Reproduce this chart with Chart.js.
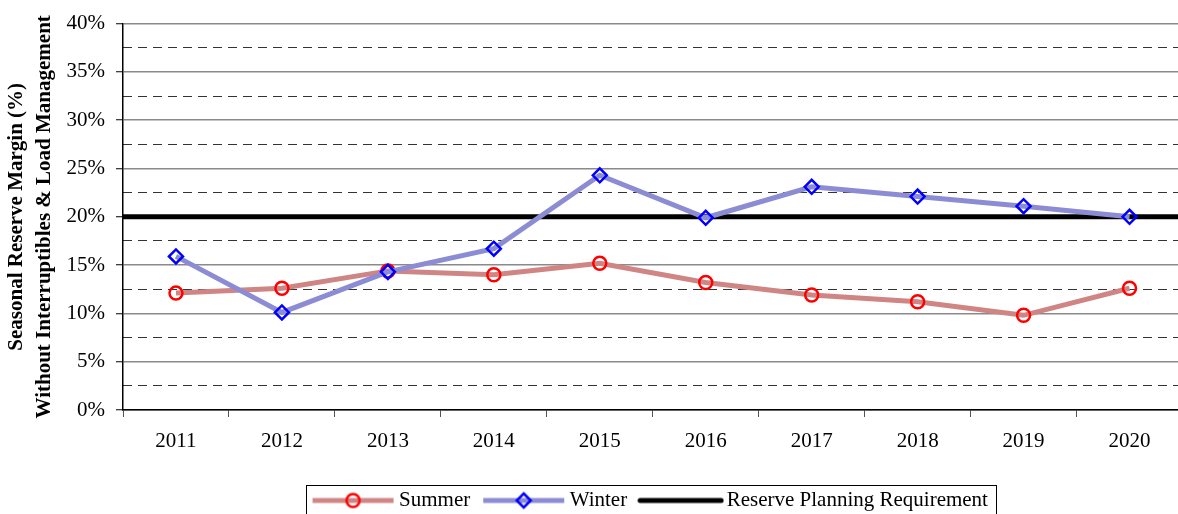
<!DOCTYPE html>
<html>
<head>
<meta charset="utf-8">
<script src="https://cdn.jsdelivr.net/npm/chart.js@4.4.1/dist/chart.umd.min.js"></script>
<style>
  html, body { margin: 0; padding: 0; background: #fff; overflow: hidden; }
  #wrap { width: 1178px; height: 514px; overflow: hidden; position: relative; }
  canvas { display: block; }
</style>
</head>
<body>
<div id="wrap"><canvas id="margin" width="1192" height="521"></canvas></div>
<script>
var years = ["2011", "2012", "2013", "2014", "2015", "2016", "2017", "2018", "2019", "2020"];
var summer = [12.1, 12.6, 14.4, 14.0, 15.2, 13.2, 11.9, 11.2, 9.8, 12.6];
var winter = [15.9, 10.1, 14.3, 16.7, 24.3, 19.9, 23.1, 22.1, 21.1, 20.0];
var requirement = 20;
var seriesNames = ["Summer", "Winter", "Reserve Planning Requirement"];
var yTicks = [0, 5, 10, 15, 20, 25, 30, 35, 40];

var serif = "'Liberation Serif', 'Times New Roman', serif";
Chart.defaults.font.family = serif;
Chart.defaults.font.size = 21;
Chart.defaults.color = "#000";

var summerLine = "#d08585", summerMark = "#ff0000";
var winterLine = "#8c8cd4", winterMark = "#0000ff";

// little line+marker glyphs for the legend
function legendIcon(lineColor, marker, markColor) {
  var c = document.createElement("canvas");
  c.width = 87; c.height = 20;
  var g = c.getContext("2d");
  g.strokeStyle = lineColor;
  g.lineWidth = 5;
  g.lineCap = marker ? "butt" : "round";
  g.beginPath(); g.moveTo(3, 10); g.lineTo(84, 10); g.stroke();
  g.strokeStyle = markColor;
  g.lineWidth = 2.5;
  g.beginPath();
  if (marker === "circle") {
    g.arc(43.5, 10, 6.5, 0, Math.PI * 2);
  } else if (marker === "diamond") {
    g.moveTo(43.5, 3); g.lineTo(50.5, 10); g.lineTo(43.5, 17); g.lineTo(36.5, 10); g.closePath();
  }
  if (marker) g.stroke();
  return c;
}
var icons = [
  legendIcon(summerLine, "circle", summerMark),
  legendIcon(winterLine, "diamond", winterMark),
  legendIcon("#000", null, null)
];

var legendFrame = {
  id: "legendFrame",
  afterDraw: function (chart) {
    var boxes = chart.legend.legendHitBoxes;
    if (!boxes || !boxes.length) return;
    var l = Math.min.apply(null, boxes.map(function (b) { return b.left; }));
    var r = Math.max.apply(null, boxes.map(function (b) { return b.left + b.width; }));
    var t = Math.min.apply(null, boxes.map(function (b) { return b.top; }));
    var ctx = chart.ctx;
    ctx.save();
    ctx.strokeStyle = "#000";
    ctx.lineWidth = 1;
    ctx.strokeRect(Math.round(l - 12) + 0.5, Math.round(t - 5) + 0.5, Math.round(r - l + 20), 60);
    ctx.restore();
  }
};

var config = {
  type: "line",
  data: {
    labels: years,
    datasets: [
      {
        label: seriesNames[0],
        data: summer,
        borderColor: summerLine,
        borderWidth: 5,
        pointStyle: "circle",
        pointRadius: 6.5,
        pointBorderWidth: 2.5,
        pointBorderColor: summerMark,
        pointBackgroundColor: "rgba(0,0,0,0)",
        tension: 0,
        order: 1
      },
      {
        label: seriesNames[1],
        data: winter,
        borderColor: winterLine,
        borderWidth: 5,
        pointStyle: "rectRot",
        pointRadius: 7,
        pointBorderWidth: 2.5,
        pointBorderColor: winterMark,
        pointBackgroundColor: "rgba(0,0,0,0)",
        tension: 0,
        order: 0
      },
      {
        label: seriesNames[2],
        data: [{ x: 0, y: requirement }, { x: 1, y: requirement }],
        xAxisID: "x2",
        borderColor: "#000",
        borderWidth: 5,
        pointRadius: 0,
        order: 2
      }
    ]
  },
  options: {
    responsive: false,
    animation: false,
    devicePixelRatio: 1,
    layout: { padding: { top: 22, left: 0, right: 0, bottom: 0 } },
    plugins: {
      tooltip: { enabled: false },
      legend: {
        position: "bottom",
        fullSize: false,
        labels: {
          usePointStyle: true,
          pointStyleWidth: 71,
          padding: 18,
          font: { size: 21, family: serif },
          color: "#000",
          generateLabels: function (chart) {
            return chart.data.datasets.map(function (ds, i) {
              return {
                text: ds.label,
                pointStyle: icons[i],
                datasetIndex: i,
                fontColor: "#000",
                fillStyle: "rgba(0,0,0,0)",
                strokeStyle: "rgba(0,0,0,0)",
                lineWidth: 0,
                hidden: false
              };
            });
          }
        }
      }
    },
    scales: {
      x: {
        type: "category",
        offset: true,
        grid: { offset: true, drawOnChartArea: false, drawTicks: true, tickLength: 7, tickColor: "#555", tickWidth: 1 },
        border: { color: "#000", width: 1.5 },
        ticks: { padding: 12, maxRotation: 0, font: { size: 21 } },
        afterFit: function (s) { s.height = 62; }
      },
      x2: { type: "linear", min: 0, max: 1, display: false },
      y: {
        min: 0,
        max: 40,
        afterBuildTicks: function (s) { s.ticks = yTicks.map(function (v) { return { value: v }; }); },
        ticks: { padding: 11, font: { size: 21 }, callback: function (v) { return v + "%"; } },
        grid: { color: "#8a8a8a", lineWidth: 1.5, tickLength: 7, tickColor: "#000", tickWidth: 1 },
        border: { color: "#000", width: 1.5 },
        title: {
          display: true,
          text: ["Seasonal Reserve Margin (%)", "Without Interruptibles & Load Management"],
          font: { size: 21, weight: "bold", family: serif, lineHeight: 1.333 },
          padding: { top: 3, bottom: 0 },
          color: "#000"
        },
        afterFit: function (s) { s.width = 123; }
      },
      y2: {
        position: "left",
        min: 0,
        max: 40,
        ticks: { display: false, stepSize: 2.5 },
        grid: {
          drawTicks: false,
          lineWidth: 1,
          color: function (ctx) { return ctx.tick && ctx.tick.value % 5 !== 0 ? "#333" : "rgba(0,0,0,0)"; }
        },
        border: { display: false, dash: [9, 6] },
        afterFit: function (s) { s.width = 0; }
      }
    }
  },
  plugins: [legendFrame]
};

var marginChart = new Chart(document.getElementById("margin"), config);
</script>
</body>
</html>
